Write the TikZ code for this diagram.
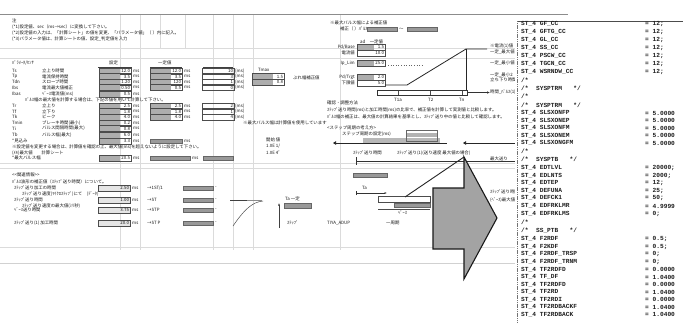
\documentclass[tikz,border=0pt]{standalone}
\usepackage{fontspec}
\newfontfamily\jpfam{Noto Sans CJK JP}
\newfontfamily\codefam{Liberation Mono}
\newcommand\jpsmall{\jpfam\fontsize{4.4}{5}\selectfont}
\newcommand\codesz{\codefam\bfseries\fontsize{6.2}{7}\selectfont}
\usetikzlibrary{arrows.meta}
\begin{document}
\begin{tikzpicture}[x=1pt,y=-1pt,
  lbl/.style={anchor=west, inner sep=0pt, font=\jpsmall, text=black!90},
  lblr/.style={anchor=east, inner sep=0pt, font=\jpsmall, text=black!90},
  gridln/.style={draw=black!14, line width=0.4pt},
  cellbase/.style={draw=black!70, line width=0.5pt, minimum width=32pt, minimum height=5.6pt, inner sep=0.3pt, font=\jpsmall, text=black!90, align=right, text width=30pt},
  cellg/.style={cellbase, path picture={\fill[black!32] (path picture bounding box.south west) rectangle ([xshift=-11pt]path picture bounding box.north east);}},
  cellw/.style={cellbase},
  celll/.style={cellbase, fill=black!10},
  barg/.style={draw=black!60, line width=0.4pt, fill=black!40, minimum height=4.5pt, inner sep=0pt},
  code/.style={anchor=west, inner sep=0pt, font=\codesz, text=black!88},
  wire/.style={draw=black!85, line width=0.8pt}
]
\useasboundingbox (0,0) rectangle (683,322);
\fill[white] (0,0) rectangle (683,322);

% ---------- spreadsheet grid ----------
\draw[black!45, line width=1pt] (0,14) -- (568,14);
\foreach \x in {120,140,213,233,253,340} \draw[gridln] (\x,15) -- (\x,250);
\foreach \x in {160,185} \draw[gridln] (\x,15) -- (\x,48);
\foreach \y in {48,58,163,168,247} \draw[gridln] (0,\y) -- (515,\y);
\draw[black!18, line width=0.8pt] (0,263) -- (515,263);

% ---------- header notes ----------
\node[lbl] (h1) at (12,21) {注};
\node[lbl] (h2) at (12,27) {(*1)設定値、sec（ms→sec）に変換して下さい。};
\node[lbl] (h3) at (12,33) {(*2)設定値の入力は、「計算シート」の値を変更、「パラメータ値」（ ）内に記入。};
\node[lbl] (h4) at (12,39) {(*3)パラメータ値は、計算シートの値、設定\_判定値を入力};

% ---------- table header ----------
\node[lbl] (t0) at (12,63) {ﾊﾟﾗﾒｰﾀ/ｾﾝｻ};
\node[lbl] (t1) at (109,63) {設定};
\node[lbl] (t2) at (158,63) {一定値};
\foreach \xa/\xb in {98/132,150/182,203/233} \draw[black!75, line width=0.6pt] (\xa,67) -- (\xb,67);

% row labels
\foreach \yy/\la/\lb [count=\k] in {71/Ts/立上り時間, 76.5/Tp/電流保持時間, 82/Tdn/スロープ時間, 87.5/Ibs/電流最大値補正, 94/Ibas/ﾍﾞｰｽ電流値(ms), 106/Tr/立上り, 111.5/Tf/立下り, 117/Tk/ピーク, 123/Tmin/ブレーキ時間(最小), 128.5/Ti/パルス間隔時間(最大), 135/Tb/パルス幅(最大)}
  {\node[lbl] (la\k) at (12,\yy) {\la}; \node[lbl] (lb\k) at (42,\yy) {\lb};}
\node[lbl] (r100) at (25,100) {ﾊﾟﾙｽ幅の最大値を計算する場合は、下記の値を用いて計算して下さい。};
\node[lbl] (r141) at (12,141) {*見込み};
\node[lbl] (r147) at (12,147) {※設定値を変更する場合は、計算値を確認の上、最大値(ms)を超えないように設定して下さい。};
\node[lbl] (r153) at (12,153) {(ﾒﾓ)最大値　　計算シート};
\node[lbl] (r158) at (12,158) {*最大パルス幅};

% column 1 cells
\foreach \yy/\vv [count=\k] in {71/12.0, 76.5/3.5, 82/1.20, 87.5/0.50, 94/0.5, 106/2.5, 111.5/1.8, 117/4.0, 123/0.2, 128.5/0.8, 135/6.0, 141/3.3, 158/20.5}
  {\node[cellg] (ca\k) at (115,\yy) {\vv}; \node[lbl] (ua\k) at (133,\yy) {ms};}
% column 2 cells
\foreach \yy/\vv [count=\k] in {71/12.0, 76.5/3.5, 82/120, 87.5/0.5, 106/2.5, 111.5/1.8, 117/4.0}
  {\node[cellg] (cb\k) at (166,\yy) {\vv}; \node[lbl] (ub\k) at (184,\yy) {ms};}
% column 3 cells
\foreach \yy/\vv [count=\k] in {71/10, 76.5/3, 82/1, 87.5/0, 106/2, 111.5/1, 117/4}
  {\node[cellw] (cc\k) at (218,\yy) {\vv}; \node[lbl] (uc\k) at (235,\yy) {(ms)};}
\node[barg, minimum width=32pt] (gb141) at (166,141) {};
\node[lbl] (ug141) at (184,141) {ms};
\node[barg, minimum width=40pt] (gb158a) at (170,158) {};
\node[barg, minimum width=30pt] (gb158b) at (218,158) {};
\node[lbl] (ug158) at (192,158) {ms};

% column 4
\node[lbl] (t4) at (258,70) {Tmax};
\node[cellg] (cd1) at (268,76.5) {1.5};
\node[cellg] (cd2) at (268,82) {0.8};
\node[lbl] (cd3) at (293,78) {ぶれ幅補正値};
\node[lbl] (m123) at (243,123) {※最大パルス幅は計算値を使用しています};
\node[lbl] (k1) at (266,140) {開始 値};
\node[lbl] (k2) at (266,146.5) {1.0E 1/};
\node[lbl] (k3) at (266,153) {1.0E 4ﾟ};

% ---------- related info (lower left) ----------
\node[lbl] (c1) at (12,175) {<<関連情報>>};
\node[lbl] (c2) at (12,182) {ﾊﾟﾙｽ波形の補正値（ｽﾃｯﾌﾟ送り時間）について。};
\node[lbl] (c3) at (22,194) {ｽﾃｯﾌﾟ送り速度(ﾏｲｸﾛｽﾃｯﾌﾟ)にて　(ﾃﾞｰﾀ)};
\node[lbl] (c4) at (22,206) {ｽﾃｯﾌﾟ送り速度の最大値(ﾐﾘ秒)};
\foreach \yy/\la/\vv/\lc [count=\k] in {188/{ｽﾃｯﾌﾟ送り加工の時間}/2.50/{→1ST/1}, 200/{ｽﾃｯﾌﾟ送り時間}/1.00/{→ST}, 210/{ﾍﾞｰｽ送り時間}/3.75/{→STP}, 223/{ｽﾃｯﾌﾟ送り(1) 加工時間}/20.0/{→ST P}}
  {\node[lbl] (ra\k) at (14,\yy) {\la};
   \node[celll] (rc\k) at (114,\yy) {\vv};
   \node[lbl] (ru\k) at (132,\yy) {ms};
   \node[lbl] (rt\k) at (147,\yy) {\lc};
   \node[barg, minimum width=30pt, minimum height=4pt] (rb\k) at (198,\yy) {};
   \node[lbl] (rv\k) at (215,\yy) {-};}

% ---------- middle: pulse chart ----------
\node[lbl] (m1) at (330,23) {※最大パルス幅による補正値};
\node[lbl] (m2) at (340,29) {補正（ ）ﾊﾟﾙｽ};
\node[barg, minimum width=30pt] (m3) at (382,29) {};
\node[lbl] (m4) at (399,29) {〜};
\node[barg, minimum width=30pt] (m5) at (422,29) {};

\node[lbl] (s0) at (360,42) {ad　一定値};
\foreach \yy/\la/\vv/\st [count=\k] in {47/{Pd/Base}/1.5/cellg, 53/{電流値}/10.0/cellw, 63/{Ip\_Lim}/25.0/cellg, 77/{Pd/Trgt}/2.0/cellg, 83/{下限値}/5.0/cellw}
  {\node[lblr] (sl\k) at (355,\yy) {\la}; \node[\st, minimum width=28pt, text width=26pt] (sv\k) at (371,\yy) {\vv};}
\draw[black!60, dotted, line width=0.6pt] (388,65) -- (422,65);

\coordinate (tp0) at (385,85);
\coordinate (tp1) at (407,85);
\coordinate (tp2) at (466,49);
\coordinate (tp3) at (487,49);
\coordinate (tp4) at (466,90);
\draw[wire] (tp0) -- (tp1) -- (tp2) -- (tp3);
\draw[black!85, line width=0.6pt] (tp2) -- (tp4);

\node[draw=black!80, line width=0.5pt, fill=white, minimum width=90pt, minimum height=4.5pt, inner sep=0pt] (axbox) at (422,92.5) {};
\coordinate (axend) at (490,92.5);
\draw[black!80, line width=0.6pt, -{Latex[length=3pt,width=2.5pt]}] (axbox.east) -- (axend);
\foreach \x in {398,430,462} \draw[black!70] (\x,90.5) -- (\x,94.5);
\node[lbl] (ax1) at (394,100) {T1a};
\node[lbl] (ax2) at (428,100) {T2};
\node[lbl] (ax3) at (459,100) {Tn};
\foreach \yy/\tt [count=\k] in {46/{※電流(1)値}, 52/{一定\_最大値}, 63/{一定\_最小値}, 75/{一定\_最小2}, 80/{立ち下り時間}, 92/{時間\_ﾊﾟﾙｽ(1)}}
  {\node[lbl] (rl\k) at (490,\yy) {\tt};}

% ---------- middle: step period ----------
\node[lbl] (n1) at (327,103) {確認・調整方法};
\node[lbl] (n2) at (327,110) {ｽﾃｯﾌﾟ送り時間(ms)と加工時間(ms)の比率で、補正値を計算して実測値と比較します。};
\node[lbl] (n3) at (327,116.5) {ﾊﾟﾙｽ幅の補正は、最大値の計算結果を基準とし、ｽﾃｯﾌﾟ送り中の値と比較して確認します。};
\node[lbl] (n4) at (327,128) {<ステップ周期の考え方>};
\node[lbl] (n5) at (342,134) {ステップ周期の設定(ms)};
\fill[black!28] (363,138) rectangle (440,142.5);
\node[draw=black!60, line width=0.45pt, minimum width=31pt, minimum height=11pt, inner sep=0pt,
  path picture={\fill[black!30] ([yshift=-3pt]path picture bounding box.north west) rectangle ([yshift=-7pt]path picture bounding box.north east);}] (sb) at (422,135.5) {};
\coordinate (tl0) at (333,143);
\coordinate (tl1) at (447,143);
\coordinate (tl2) at (463,143);
\coordinate (tl3) at (515,143);
\draw[wire, {Triangle[length=3pt,width=3.5pt]}-] (tl0) -- (tl1);
\draw[wire, {Triangle[length=3pt,width=3.5pt]}-] (tl2) -- (tl3);
\node[lbl] (n6) at (353,153) {ｽﾃｯﾌﾟ送り時間};
\node[lbl] (n7) at (397,153) {ｽﾃｯﾌﾟ送り(1)(送り速度 最大値の場合)};
\coordinate (br0) at (356,161);
\coordinate (br1) at (515,161);
\draw[black!80, line width=0.6pt] (br0) -- (br1);
\draw[black!80, line width=0.6pt] (356,157) -- (356,165);
\node[lbl] (n8) at (490,158.5) {最大送り};
\node[barg, minimum width=34pt, minimum height=4pt] (gb175) at (370,175) {};
\coordinate (bk0) at (356,193);
\coordinate (bk1) at (387,193);
\draw[black!80, line width=0.5pt, {Bar[width=4pt]}-{Latex[length=2.5pt]}] (bk0) -- (bk1);
\node[lbl] (n9) at (362,188) {Ta};
\node[lbl] (n10) at (490,192) {ｽﾃｯﾌﾟ送り時間};
\node[lbl] (n11) at (490,200) {(ﾍﾞｰｽ)最大値};
\node[draw=black!70, line width=0.5pt, minimum width=52pt, minimum height=6pt, inner sep=0pt] (bg1) at (404,199) {};
\node[barg, minimum width=36pt, minimum height=4pt] (bg2) at (412,205) {};
\draw[black!70, line width=0.5pt] (378,209) -- (430,209);
\node[lbl] (n12) at (398,213) {ﾍﾟｰｽ};

% lower middle: acceleration curve
\coordinate (cv0) at (233,226);
\coordinate (cv1) at (263,201);
\draw[black!70, line width=0.5pt] (cv0) .. controls (244,210) and (252,202) .. (cv1);
\draw[black!75, line width=0.9pt] (230,200) -- (247,200);
\draw[black!45, line width=0.6pt] (247,200) -- (262,200);
\coordinate (va0) at (279,228);
\coordinate (va1) at (279,203);
\draw[black!75, line width=0.5pt, -{Latex[length=2.5pt,width=2pt]}] (va0) -- (va1);
\node[lbl] (v1) at (285,199) {Ta 一定};
\node[barg, minimum width=27pt] (vb) at (298,205.5) {};
\node[lbl] (v2) at (287,223) {ｽﾃｯﾌﾟ};
\node[lbl] (v3) at (327,223) {TIYA\_ADUP};
\node[lbl] (v4) at (386,223) {一周期};

% ---------- big arrow with callout ----------
\coordinate (atop) at (464,157);
\coordinate (afoot) at (405,197);
\draw[black!85, line width=0.9pt] (atop) -- (afoot);
\draw[fill=black!36, draw=black!90, line width=1.1pt, line join=miter]
  (433,188) -- (464,188) -- (atop) -- (497,218) -- (464,279) -- (464,249) -- (433,249) -- cycle;

% ---------- code panel ----------
\fill[white] (515,19) rectangle (683,322);
\draw[black!70, line width=0.8pt] (517,21) -- (683,21);
\draw[black!55, line width=0.6pt, dash pattern=on 1.2pt off 0.6pt] (517,21) -- (517,322);
\foreach \yy/\aa/\bb [count=\k] in {
  24/{ST\_4 GF\_CC}/{= 12;},
  32/{ST\_4 GFTG\_CC}/{= 12;},
  40/{ST\_4 GL\_CC}/{= 12;},
  48/{ST\_4 SS\_CC}/{= 12;},
  56/{ST\_4 PSCW\_CC}/{= 12;},
  64/{ST\_4 TGCN\_CC}/{= 12;},
  72/{ST\_4 WSRNDW\_CC}/{= 12;},
  80/{/*}/{},
  88/{/*\ \ SYSPTRM\ \ \ */}/{},
  96.5/{/*}/{},
  104.8/{/*\ \ SYSPTRM\ \ \ */}/{},
  113.2/{ST\_4 SLSXONFP}/{= 5.0000},
  120.7/{ST\_4 SLSXONEP}/{= 5.0000},
  128.2/{ST\_4 SLSXONFM}/{= 5.0000},
  135.7/{ST\_4 SLSXONEM}/{= 5.0000},
  143.2/{ST\_4 SLSXONGFM}/{= 5.0000},
  151/{/*}/{},
  159/{/*\ \ SYSPTB\ \ \ */}/{},
  167.5/{ST\_4 EDTLVL}/{= 20000;},
  175.5/{ST\_4 EDLNTS}/{= 2000;},
  183/{ST\_4 EDTEP}/{= 12;},
  190.5/{ST\_4 DEFUNA}/{= 25;},
  198/{ST\_4 DEFCK1}/{= 50;},
  206/{ST\_4 EDFRKLMR}/{= 4.9999},
  214/{ST\_4 EDFRKLMS}/{= 0;},
  222/{/*}/{},
  230.8/{/*\ \ SS\_PTB\ \ \ */}/{},
  239.2/{ST\_4 F2RDF}/{= 0.5;},
  246.7/{ST\_4 F2KDF}/{= 0.5;},
  254.2/{ST\_4 F2RDF\_TRSP}/{= 0;},
  262/{ST\_4 F2RDF\_TRNM}/{= 0;},
  269.5/{ST\_4 TF2RDFD}/{= 0.0000},
  277/{ST\_4 TF\_DF}/{= 1.0400},
  284.5/{ST\_4 TF2RDFD}/{= 0.0000},
  292/{ST\_4 TF2RD}/{= 1.0400},
  299.5/{ST\_4 TF2RDI}/{= 0.0000},
  307/{ST\_4 TF2RDBACKF}/{= 1.0400},
  314.5/{ST\_4 TF2RDBACK}/{= 1.0400}}
  {\node[code] (cn\k) at (521,\yy) {\aa}; \node[code] (cv\k) at (645,\yy) {\bb};}
\end{tikzpicture}
\end{document}
